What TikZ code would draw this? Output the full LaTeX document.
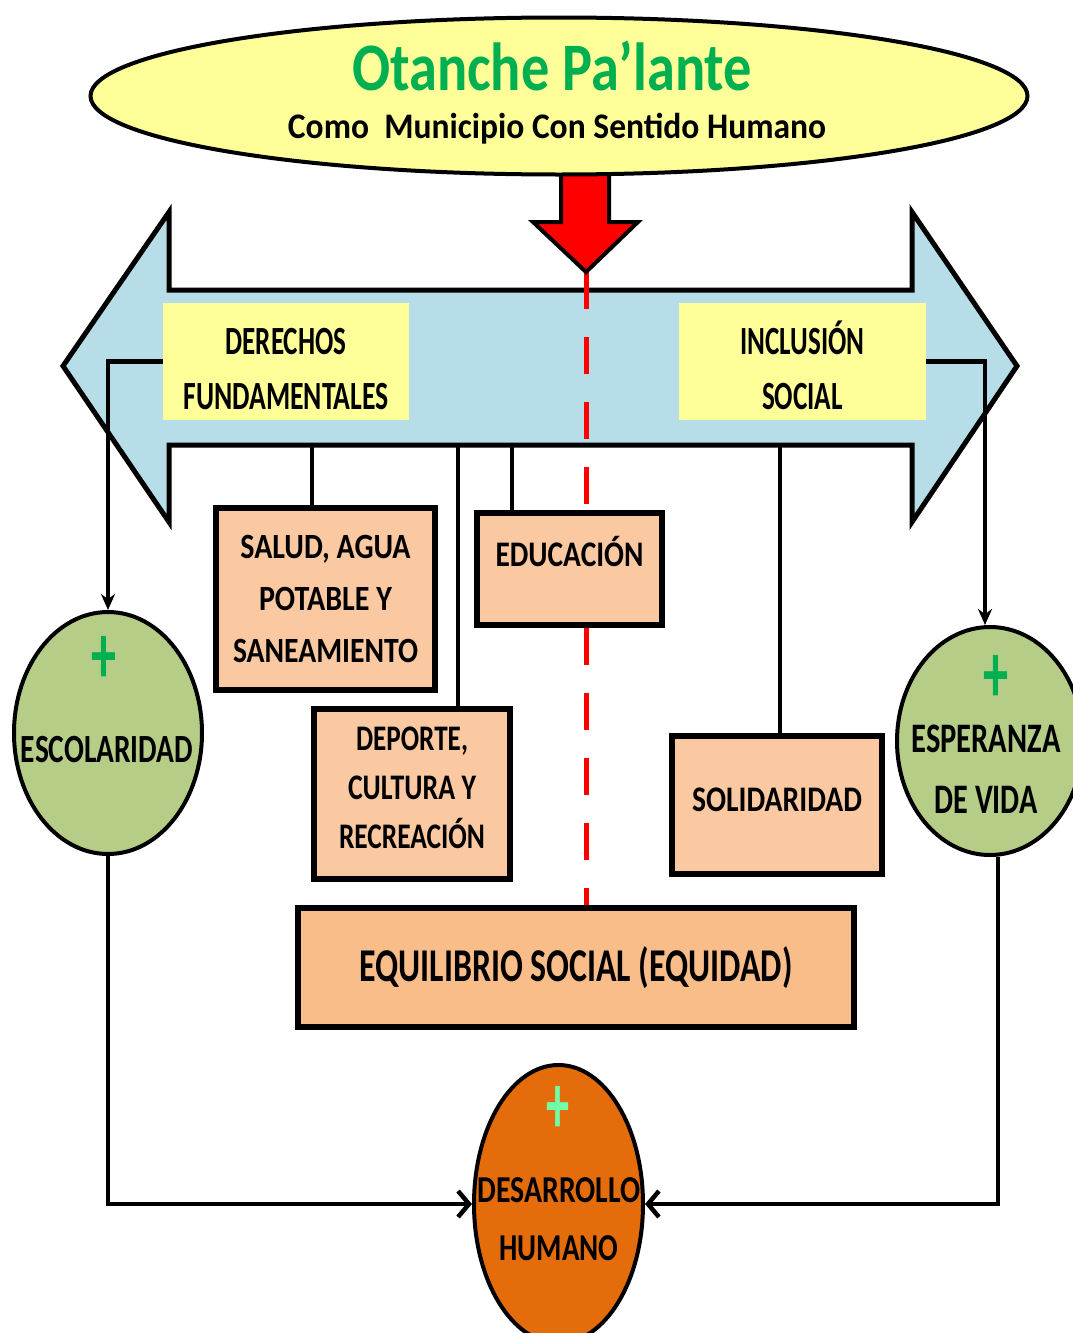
\documentclass[tikz,border=0pt]{standalone}
\usepackage{fontspec}
\setmainfont{Carlito}
\usetikzlibrary{shapes.geometric,arrows.meta}
\definecolor{ylw}{HTML}{FFFF99}
\definecolor{lblue}{HTML}{B7DDE8}
\definecolor{peach}{HTML}{FAC9A1}
\definecolor{peachb}{HTML}{F9BD8A}
\definecolor{olive}{HTML}{B6CD88}
\definecolor{orng}{HTML}{E46C0A}
\definecolor{grn}{HTML}{00B050}
\definecolor{mint}{HTML}{70FFA8}
\newcommand\fw[2]{\resizebox{#1pt}{\height}{#2}}
\newcommand\fs[2]{\fontsize{#1}{#2}\selectfont\bfseries}
\newcommand\sh[2]{\raisebox{#1}[\height][\depth]{#2}}
\newcommand\rows[1]{\begin{tabular}{@{}c@{}}#1\end{tabular}}
\begin{document}
\begin{tikzpicture}[x=1pt,y=-1pt,
  box/.style={draw,line width=5.5pt,fill=peach,inner sep=0pt,align=center},
  yel/.style={fill=ylw,inner sep=0pt,align=center},
  oval/.style={ellipse,draw,line width=4pt,inner sep=0pt},
  conn/.style={line width=4.5pt},
  txt/.style={inner sep=0pt,align=center},
  plus/.style={inner sep=0pt,font=\fs{85}{85}},
  dwn/.style={-{Stealth[length=16pt,width=14pt]}},
  barb/.style={-{Straight Barb[length=11pt,width=26pt]}}]
\useasboundingbox (0,0) rectangle (1072,1333);
% band arrow
\draw[line width=5pt,fill=lblue,line join=miter] (63,366) -- (169,212) -- (169,290) -- (912,290) -- (912,212) -- (1017,366) -- (912,522) -- (912,445) -- (169,445) -- (169,522) -- cycle;
\coordinate (b1) at (312,445);
\coordinate (b2) at (458,445);
\coordinate (b3) at (512,445);
\coordinate (b4) at (780,445);
\coordinate (tip) at (586,272);
% yellow labels
\node[yel,minimum width=246pt,minimum height=117pt,font=\fs{40}{55}] (der) at (286,361.5) {\sh{-9pt}{\rows{\fw{121}{DERECHOS}\\\fw{205}{FUNDAMENTALES}}}};
\node[yel,minimum width=247pt,minimum height=117pt,font=\fs{40}{55}] (inc) at (802.5,361.5) {\sh{-9pt}{\rows{\fw{124}{INCLUSIÓN}\\\fw{81}{SOCIAL}}}};
% boxes
\node[box,minimum width=219pt,minimum height=182pt,font=\fs{35.5}{52}] (sal) at (325.5,599) {\fw{170}{SALUD, AGUA}\\\fw{133}{POTABLE Y}\\\fw{185}{SANEAMIENTO}};
\node[box,minimum width=185pt,minimum height=112pt,font=\fs{36}{36},text height=20pt,text depth=25pt] (edu) at (569.5,569) {\fw{148}{EDUCACIÓN}};
\node[box,minimum width=196pt,minimum height=170pt,font=\fs{36}{49}] (dep) at (412,794) {\sh{4pt}{\rows{\fw{112}{DEPORTE,}\\\fw{128}{CULTURA Y}\\\fw{146}{RECREACIÓN}}}};
\node[box,minimum width=210pt,minimum height=138pt,font=\fs{36}{36}] (sol) at (777,805) {\sh{5pt}{\fw{170}{SOLIDARIDAD}}};
\node[box,fill=peachb,minimum width=556pt,minimum height=119pt,font=\fs{47}{47}] (equ) at (576,967.5) {\fw{433}{EQUILIBRIO SOCIAL (EQUIDAD)}};
% ovals
\node[oval,fill=olive,minimum width=188pt,minimum height=242pt] (esc) at (108,733) {};
\node[oval,fill=olive,minimum width=186pt,minimum height=228pt] (esp) at (990,741) {};
\node[oval,fill=orng,minimum width=169pt,minimum height=278pt] (des) at (558.5,1204) {};
% connectors
\draw[conn,dwn] (der.west) -| (esc.north);
\draw[conn,dwn] (inc.east) -| ([xshift=-5pt]esp.north);
\draw[conn] (b1) -- (b1 |- sal.north);
\draw[conn] (b2) -- (b2 |- dep.north);
\draw[conn] (b3) -- (b3 |- edu.north);
\draw[conn] (b4) -- (b4 |- sol.north);
\draw[conn,barb] (esc.south) |- (des.west);
\draw[conn,barb] ([xshift=8pt]esp.south) |- (des.east);
\draw[red,line width=5pt,dash pattern=on 37pt off 28pt] (tip) -- (tip |- edu.north);
\draw[red,line width=5pt,dash pattern=on 37pt off 28pt] (tip |- edu.south) -- (tip |- equ.north);
% red arrow
\draw[line width=4pt,fill=red,line join=miter] (561,160) -- (561,222) -- (533,222) -- (tip) -- (638,222) -- (609,222) -- (609,160);
% top oval
\node[oval,fill=ylw,minimum width=937pt,minimum height=157pt] (top) at (559,96) {};
\node[txt,anchor=base,text=grn,font=\fs{68}{68}] (title) at (552,90) {\fw{400}{Otanche Pa’lante}};
\node[txt,anchor=base,font=\fs{36}{36}] (sub) at (557,138) {\fw{538}{Como~~Municipio Con Sentido Humano}};
% oval texts
\node[plus,text=grn] (p1) at (104,660) {\fw{25}{+}};
\node[plus,text=grn] (p2) at (996,679) {\fw{25}{+}};
\node[plus,text=mint] (p3) at (558,1110) {\fw{23}{+}};
\node[txt,anchor=base,font=\fs{40}{40}] (esct) at (107,762) {\fw{172}{ESCOLARIDAD}};
\node[txt,anchor=base,font=\fs{42}{61}] (espt) at (986,752) {\begin{tabular}[t]{@{}c@{}}\fw{149}{ESPERANZA}\\\fw{103}{DE VIDA}\end{tabular}};
\node[txt,anchor=base,font=\fs{38}{58}] (dest) at (559,1202) {\begin{tabular}[t]{@{}c@{}}\fw{163}{DESARROLLO}\\\fw{119}{HUMANO}\end{tabular}};
\end{tikzpicture}
\end{document}
